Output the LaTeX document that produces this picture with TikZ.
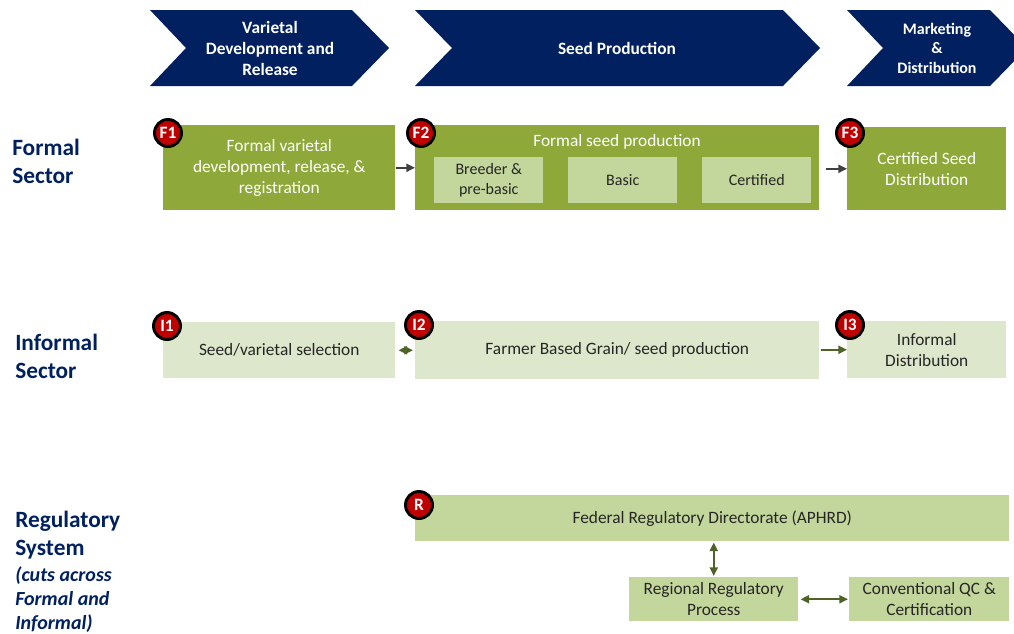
\documentclass[tikz,border=0pt]{standalone}
\usepackage{fontspec}
\setmainfont{Carlito}
\usetikzlibrary{arrows.meta}
\newlength\px
\setlength\px{0.75pt}
\definecolor{navy}{HTML}{002060}
\definecolor{fgreen}{HTML}{8EA939}
\definecolor{lgreen}{HTML}{C3D69B}
\definecolor{vlgreen}{HTML}{DDE7CB}
\definecolor{badgered}{HTML}{C00000}
\definecolor{olive}{HTML}{4F6228}
\definecolor{arrowgrey}{HTML}{404040}
\definecolor{boxtext}{HTML}{262626}
\newcommand\subnote[1]{{\itshape\fontsize{15}{18.75}\selectfont #1}}
\begin{document}
\begin{tikzpicture}[x=0.75pt,y=-0.75pt,
  chevtext/.style={text=white,align=center,font=\bfseries\fontsize{13}{15.75}\selectfont},
  sector/.style={text=navy,align=left,anchor=north west,inner sep=0pt,font=\bfseries\fontsize{17.5}{21}\selectfont},
  box/.style={anchor=north west,align=center,inner sep=0pt,font=\fontsize{13}{15.75}\selectfont},
  formal/.style={box,fill=fgreen,text=white},
  inner/.style={box,fill=lgreen,text=boxtext,minimum width=109\px,minimum height=46\px,font=\fontsize{12}{15}\selectfont},
  informal/.style={box,fill=vlgreen,text=boxtext},
  regbox/.style={box,fill=lgreen,text=boxtext},
  badge/.style={circle,fill=badgered,draw=black,line width=2.2pt,minimum size=27\px,inner sep=0pt,text=white,font=\bfseries\fontsize{13}{13}\selectfont},
  farrow/.style={-{Triangle[length=6.5pt,width=6pt]},line width=1.6pt,draw=arrowgrey},
  oarrow/.style={-{Triangle[length=6.5pt,width=6pt]},line width=1.6pt,draw=olive},
  darrow/.style={{Triangle[length=6.5pt,width=6pt]}-{Triangle[length=6.5pt,width=6pt]},line width=1.6pt,draw=olive}]
\clip (0,0) rectangle (1014,633);
% stages
\fill[navy] (150,10) -- (352,10) -- (389,48) -- (352,86) -- (150,86) -- (186,48) -- cycle;
\fill[navy] (415,10) -- (783,10) -- (820,48) -- (783,86) -- (415,86) -- (452,48) -- cycle;
\fill[navy] (847,10) -- (990,10) -- (1027,48) -- (990,86) -- (847,86) -- (883,48) -- cycle;
\node[chevtext] (s1) at (270,48) {Varietal\\Development and\\Release};
\node[chevtext] (s2) at (617,48) {Seed Production};
\node[chevtext,font=\bfseries\fontsize{12}{14.6}\selectfont] (s3) at (937,48) {Marketing\\\&\\Distribution};
% sectors
\node[sector] (lf) at (12,139) {Formal\\Sector};
\node[sector] (li) at (15,334) {Informal\\Sector};
\node[sector] (lr) at (15,511) {Regulatory\\System\\[-1.5pt]\subnote{(cuts across}\\[-3pt]\subnote{Formal and}\\[-3pt]\subnote{Informal)}};
% formal
\node[formal,minimum width=232\px,minimum height=85\px] (f1) at (163,125) {Formal varietal\\development, release, \&\\registration};
\node[formal,minimum width=404\px,minimum height=85\px] (f2) at (415,125) {};
\node[text=white,font=\fontsize{13}{15.75}\selectfont] (f2t) at (617,142) {Formal seed production};
\node[inner] (b1) at (434,157) {Breeder \&\\pre-basic};
\node[inner] (b2) at (568,157) {Basic};
\node[inner] (b3) at (702,157) {Certified};
\node[formal,minimum width=159\px,minimum height=83\px] (f3) at (847,127) {Certified Seed\\Distribution};
% informal
\node[informal,minimum width=232\px,minimum height=56\px] (i1) at (163,322) {Seed/varietal selection};
\node[informal,minimum width=404\px,minimum height=58\px] (i2) at (415,321) {Farmer Based Grain/ seed production};
\node[informal,minimum width=159\px,minimum height=57\px] (i3) at (847,321) {Informal\\Distribution};
% regulatory
\node[regbox,minimum width=594\px,minimum height=46\px] (fed) at (415,495) {Federal Regulatory Directorate (APHRD)};
\node[regbox,minimum width=169\px,minimum height=44\px] (reg) at (629,577) {Regional Regulatory\\Process};
\node[regbox,minimum width=160\px,minimum height=44\px] (qc) at (849,577) {Conventional QC \&\\Certification};
% badges
\node[badge] (bf1) at ([shift={(5,8)}]f1.north west) {F1};
\node[badge] (bf2) at ([shift={(6,8)}]f2.north west) {F2};
\node[badge] (bf3) at ([shift={(3,6)}]f3.north west) {F3};
\node[badge] (bi1) at ([shift={(4,4)}]i1.north west) {I1};
\node[badge] (bi2) at ([shift={(4,4)}]i2.north west) {I2};
\node[badge] (bi3) at ([shift={(3,4)}]i3.north west) {I3};
\node[badge] (br) at ([shift={(4,10)}]fed.north west) {R};
% connectors
\draw[farrow] (f1.east) -- (f2.west);
\draw[farrow,shorten <=4.5pt] (f2.east |- f3.west) -- (f3.west);
\draw[darrow,shorten <=2.25pt,shorten >=1.5pt] (i1.east) -- (i2.west |- i1.east);
\draw[oarrow,shorten <=0.75pt] (i2.east |- i3.west) -- (i3.west);
\draw[darrow,shorten <=0.75pt,shorten >=0.75pt] (fed.south -| reg.north) -- (reg.north);
\draw[darrow,shorten <=1.5pt,shorten >=0.75pt] (reg.east) -- (qc.west);
\end{tikzpicture}
\end{document}
